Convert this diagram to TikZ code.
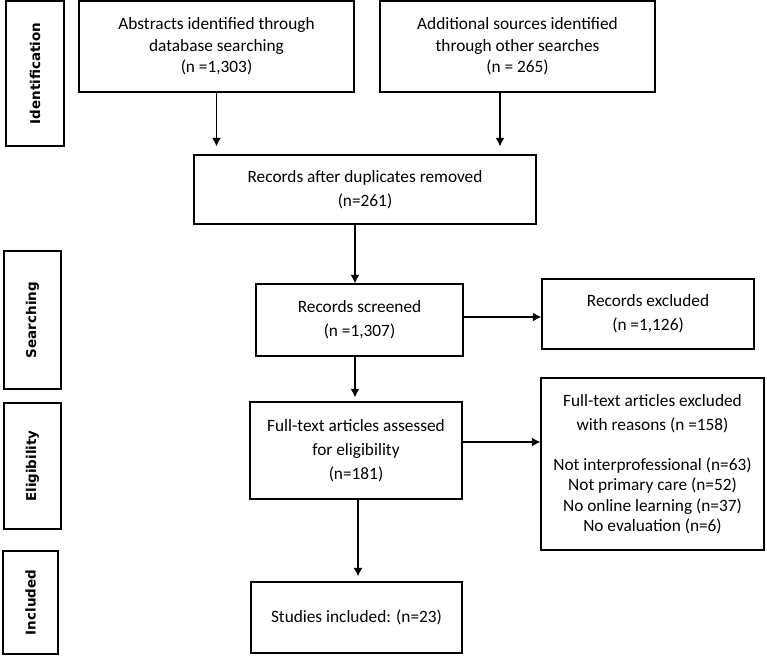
\documentclass[tikz,border=0pt]{standalone}
\usepackage{fontspec}
\setmainfont{Carlito}
\newfontfamily\sidefont{DejaVu Sans}
\usetikzlibrary{arrows.meta}
\tikzset{
  box/.style={draw, line width=1.3pt, align=center, inner sep=2pt, font=\fontsize{17.3}{24}\selectfont},
  topbox/.style={box, font=\fontsize{17.3}{21.5}\selectfont},
  sidebox/.style={draw, line width=1.3pt, rotate=90, inner sep=0pt, font=\sidefont\bfseries\fontsize{13.5}{15}\selectfont},
  arr/.style={line width=1.3pt, -{Latex[length=8.5pt,width=9pt]}}
}
\begin{document}
\begin{tikzpicture}[x=1pt,y=-1pt]
		\useasboundingbox (0,0) rectangle (767,655);
		\node[sidebox, minimum width=145pt, minimum height=58pt] (ident) at (35,73.5) {Identification};
		\node[sidebox, minimum width=138pt, minimum height=57pt] (search) at (32.5,320) {Searching};
		\node[sidebox, minimum width=126pt, minimum height=57pt] (elig) at (32.5,466) {Eligibility};
		\node[sidebox, minimum width=103pt, minimum height=55pt] (incl) at (30.5,602.5) {Included};
		\node[topbox, minimum width=275pt, minimum height=91pt] (abstr) at (216.5,46.5) {Abstracts identified through\\database searching\\(n =1,303)};
		\node[topbox, minimum width=275pt, minimum height=91pt] (addl) at (517.5,46.5) {Additional sources identified\\through other searches\\(n = 265)};
		\node[box, minimum width=342pt, minimum height=69pt] (dupl) at (365,189.5) {Records after duplicates removed\\(n=261)};
		\node[box, minimum width=207pt, minimum height=72pt] (screen) at (359.5,320) {Records screened\\(n =1,307)};
		\node[box, minimum width=212pt, minimum height=70pt] (excl) at (648,314) {Records excluded\\(n =1,126)};
		\node[box, minimum width=212pt, minimum height=97pt] (full) at (356,450.5) {Full-text articles assessed\\for eligibility\\(n=181)};
		\node[box, minimum width=223pt, minimum height=172pt] (fullexcl) at (652.5,464) {Full-text articles excluded\\with reasons (n =158)\\[16pt]Not interprofessional (n=63)\\[-3.5pt]Not primary care (n=52)\\[-3.5pt]No online learning (n=37)\\[-3.5pt]No evaluation (n=6)};
		\node[box, minimum width=211pt, minimum height=71pt] (stud) at (356.5,617.5) {Studies included: (n=23)};
		\draw[arr] (abstr.south) -- ([yshift=8pt]abstr.south |- dupl.north);
		\draw[arr] ([xshift=-17.5pt]addl.south) -- ([xshift=-17.5pt,yshift=8pt]addl.south |- dupl.north);
		\draw[arr] ([xshift=-4.5pt]screen.north |- dupl.south) -- ([xshift=-4.5pt]screen.north);
		\draw[arr] ([yshift=3pt]screen.east) -- ([yshift=3pt]screen.east -| excl.west);
		\draw[arr] ([xshift=-4.5pt]screen.south) -- ([xshift=-4.5pt,yshift=4pt]screen.south |- full.north);
		\draw[arr] ([yshift=8.5pt]full.east) -- ([yshift=8.5pt]full.east -| fullexcl.west);
		\draw[arr] ([xshift=2pt]full.south) -- ([xshift=2pt,yshift=5pt]full.south |- stud.north);
\end{tikzpicture}
\end{document}
